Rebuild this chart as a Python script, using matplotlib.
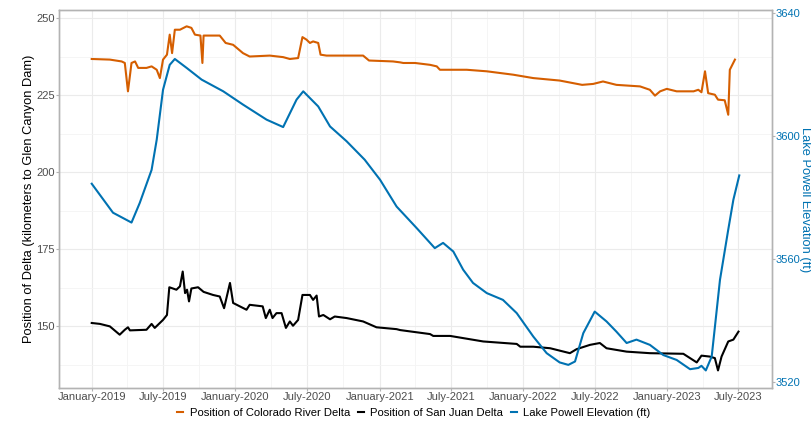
import matplotlib.pyplot as plt
import matplotlib.dates as mdates
import pandas as pd

plt.rcParams['font.family'] = ['Liberation Sans', 'DejaVu Sans']

# Lake Powell elevation (ft)
powell_dates = ["2019-01-01", "2019-02-24", "2019-04-12", "2019-05-03", "2019-06-02", "2019-06-15",
                "2019-07-01", "2019-07-18", "2019-07-31", "2019-08-30", "2019-10-07", "2019-12-01",
                "2020-01-20", "2020-03-20", "2020-05-01", "2020-06-04", "2020-06-21", "2020-07-29",
                "2020-08-28", "2020-10-09", "2020-11-24", "2021-01-02", "2021-02-13", "2021-04-05",
                "2021-05-21", "2021-06-11", "2021-07-07", "2021-08-01", "2021-08-26", "2021-09-30",
                "2021-11-10", "2021-12-15", "2022-01-26", "2022-03-01", "2022-04-03", "2022-04-25",
                "2022-05-12", "2022-06-02", "2022-07-01", "2022-07-31", "2022-08-25", "2022-09-20",
                "2022-10-15", "2022-11-18", "2022-12-22", "2023-01-25", "2023-02-28", "2023-03-21",
                "2023-03-29", "2023-04-09", "2023-04-24", "2023-05-15", "2023-06-05", "2023-06-18",
                "2023-07-03"]
powell_ft = [3584.5, 3575.1, 3571.9, 3578.3, 3589.0, 3598.8, 3615.0, 3623.1, 3625.0, 3622.1,
             3618.3, 3614.5, 3610.2, 3605.3, 3602.9, 3611.8, 3614.5, 3609.6, 3603.1, 3598.3,
             3592.3, 3585.8, 3577.1, 3570.1, 3563.6, 3565.3, 3562.5, 3556.6, 3552.3, 3549.0,
             3546.8, 3542.5, 3534.9, 3529.5, 3526.5, 3525.7, 3526.8, 3536.0, 3543.0, 3539.8,
             3536.5, 3532.8, 3533.9, 3532.2, 3528.9, 3527.3, 3524.3, 3524.7, 3525.4, 3523.9,
             3528.4, 3553.3, 3569.6, 3579.3, 3587.2]

# Colorado River delta position (km to dam)
colorado_dates = ["2019-01-01", "2019-02-16", "2019-03-18", "2019-03-26", "2019-04-03", "2019-04-12",
                  "2019-04-21", "2019-04-29", "2019-05-20", "2019-06-02", "2019-06-15", "2019-06-23",
                  "2019-07-01", "2019-07-11", "2019-07-18", "2019-07-24", "2019-07-31", "2019-08-13",
                  "2019-08-30", "2019-09-11", "2019-09-20", "2019-10-04", "2019-10-09", "2019-10-12",
                  "2019-11-22", "2019-12-07", "2019-12-26", "2020-01-20", "2020-02-06", "2020-03-28",
                  "2020-05-01", "2020-05-18", "2020-06-08", "2020-06-19", "2020-06-29", "2020-07-08",
                  "2020-07-16", "2020-07-29", "2020-08-04", "2020-08-19", "2020-11-20", "2020-12-05",
                  "2021-02-04", "2021-02-22", "2021-03-02", "2021-04-01", "2021-05-09", "2021-05-26",
                  "2021-06-03", "2021-08-10", "2021-09-30", "2021-12-06", "2022-01-26", "2022-04-03",
                  "2022-05-30", "2022-06-27", "2022-07-22", "2022-08-25", "2022-10-24", "2022-11-18",
                  "2022-12-01", "2022-12-14", "2022-12-31", "2023-01-25", "2023-03-09", "2023-03-21",
                  "2023-03-29", "2023-04-07", "2023-04-15", "2023-05-02", "2023-05-10", "2023-05-27",
                  "2023-06-05", "2023-06-09", "2023-06-22"]
colorado_km = [236.7, 236.5, 235.9, 235.4, 226.2, 235.4, 235.9, 233.8, 233.8, 234.3, 233.2, 230.5,
               236.5, 238.1, 244.6, 238.6, 246.2, 246.2, 247.3, 246.8, 244.6, 244.3, 235.4, 244.3,
               244.3, 241.9, 241.3, 238.6, 237.5, 237.8, 237.3, 236.7, 237.0, 243.8, 243.0, 241.9,
               242.4, 241.9, 238.1, 237.8, 237.8, 236.2, 235.9, 235.6, 235.4, 235.4, 234.8, 234.3,
               233.2, 233.2, 232.7, 231.6, 230.5, 229.7, 228.3, 228.6, 229.4, 228.3, 227.8, 226.7,
               224.8, 226.2, 227.0, 226.2, 226.2, 226.7, 225.9, 232.7, 225.6, 225.1, 223.5, 223.3,
               218.6, 233.2, 236.5]

# San Juan delta position (km to dam)
sanjuan_dates = ["2019-01-01", "2019-01-22", "2019-02-16", "2019-03-13", "2019-03-26", "2019-04-03",
                 "2019-04-08", "2019-05-20", "2019-06-02", "2019-06-10", "2019-07-01", "2019-07-11",
                 "2019-07-17", "2019-08-04", "2019-08-13", "2019-08-20", "2019-08-26", "2019-08-31",
                 "2019-09-05", "2019-09-11", "2019-09-28", "2019-10-12", "2019-11-05", "2019-11-22",
                 "2019-12-03", "2019-12-18", "2019-12-26", "2020-01-29", "2020-02-06", "2020-03-10",
                 "2020-03-18", "2020-03-28", "2020-04-04", "2020-04-14", "2020-04-27", "2020-05-08",
                 "2020-05-18", "2020-05-26", "2020-06-08", "2020-06-19", "2020-07-08", "2020-07-16",
                 "2020-07-25", "2020-07-31", "2020-08-11", "2020-08-28", "2020-09-09", "2020-10-09",
                 "2020-11-20", "2020-12-24", "2021-02-13", "2021-02-22", "2021-05-09", "2021-05-17",
                 "2021-06-29", "2021-09-21", "2021-12-15", "2021-12-24", "2022-01-26", "2022-03-10",
                 "2022-04-29", "2022-05-16", "2022-06-19", "2022-07-14", "2022-07-31", "2022-09-20",
                 "2022-11-18", "2023-02-11", "2023-02-28", "2023-03-17", "2023-03-29", "2023-04-19",
                 "2023-05-02", "2023-05-10", "2023-05-19", "2023-06-05", "2023-06-18", "2023-07-01"]
sanjuan_km = [151.0, 150.7, 149.9, 147.2, 148.8, 149.6, 148.6, 148.8, 150.7, 149.4, 152.0, 153.6,
              162.6, 161.8, 162.9, 167.7, 160.7, 161.8, 158.0, 162.2, 162.6, 161.1, 160.1, 159.6,
              155.8, 164.0, 157.5, 155.3, 156.9, 156.4, 152.6, 155.3, 152.6, 154.2, 154.2, 149.4,
              151.5, 150.1, 152.0, 160.1, 160.1, 158.5, 159.9, 153.1, 153.6, 152.2, 153.1, 152.6,
              151.5, 149.6, 149.0, 148.7, 147.4, 146.8, 146.8, 145.0, 144.2, 143.3, 143.3, 142.8,
              141.2, 142.5, 143.9, 144.5, 142.8, 141.7, 141.2, 141.0, 139.6, 138.2, 140.4, 140.1,
              139.6, 135.6, 140.1, 145.0, 145.6, 148.2]

sec_offset = 3388.3  # right axis = left axis + offset

orange = '#D55E00'
blue = '#0072B2'
grid_c = '#ebebeb'
text_c = '#4d4d4d'

fig = plt.figure(figsize=(8.12, 4.22), dpi=100)
ax = fig.add_axes([0.0727, 0.0806, 0.878, 0.8957])
ax2 = ax.twinx()

ax.plot(pd.to_datetime(colorado_dates), colorado_km, color=orange, lw=1.5,
        label='Position of Colorado River Delta')
ax.plot(pd.to_datetime(sanjuan_dates), sanjuan_km, color='black', lw=1.5,
        label='Position of San Juan Delta')
ax.plot(pd.to_datetime(powell_dates), [v - sec_offset for v in powell_ft], color=blue, lw=1.5,
        label='Lake Powell Elevation (ft)')

ax.set_ylim(129.9, 252.6)
ax2.set_ylim(129.9 + sec_offset, 252.6 + sec_offset)
ax.set_xlim(pd.Timestamp('2018-10-10'), pd.Timestamp('2023-09-24'))

ax.set_yticks([150, 175, 200, 225, 250])
ax.set_yticks([137.5, 162.5, 187.5, 212.5, 237.5], minor=True)
ax2.set_yticks([3520, 3560, 3600, 3640])
ax.xaxis.set_major_locator(mdates.MonthLocator(bymonth=[1, 7]))
ax.xaxis.set_minor_locator(mdates.MonthLocator(bymonth=[4, 10]))
ax.xaxis.set_major_formatter(mdates.DateFormatter('%B-%Y'))

ax.grid(True, which='major', color=grid_c, lw=0.8)
ax.grid(True, which='minor', color='#f4f4f4', lw=0.6)
ax.set_axisbelow(True)

for a in (ax, ax2):
    for s in a.spines.values():
        s.set_color('#b3b3b3')
        s.set_linewidth(1.0)
ax.tick_params(which='major', length=2, color='#b3b3b3', labelsize=8, labelcolor=text_c, pad=1)
ax.tick_params(which='minor', length=0)
ax2.tick_params(length=2, color='#b3b3b3', labelsize=8, labelcolor=blue, pad=0.5)

fig.text(29 / 812, 0.528, 'Position of Delta (kilometers to Glen Canyon Dam)', fontsize=9.3,
         color='black', rotation=90, ha='center', va='center')
fig.text(805 / 812, 0.528, 'Lake Powell Elevation (ft)', fontsize=9.3,
         color=blue, rotation=270, ha='center', va='center')

h, l = ax.get_legend_handles_labels()
fig.legend(h, l, loc='center', bbox_to_anchor=(0.51, 0.022), ncol=3, frameon=False, fontsize=8.1,
           handlelength=0.5, handletextpad=0.6, columnspacing=0.7, labelcolor='black')

fig.savefig('out.png', dpi=100)
